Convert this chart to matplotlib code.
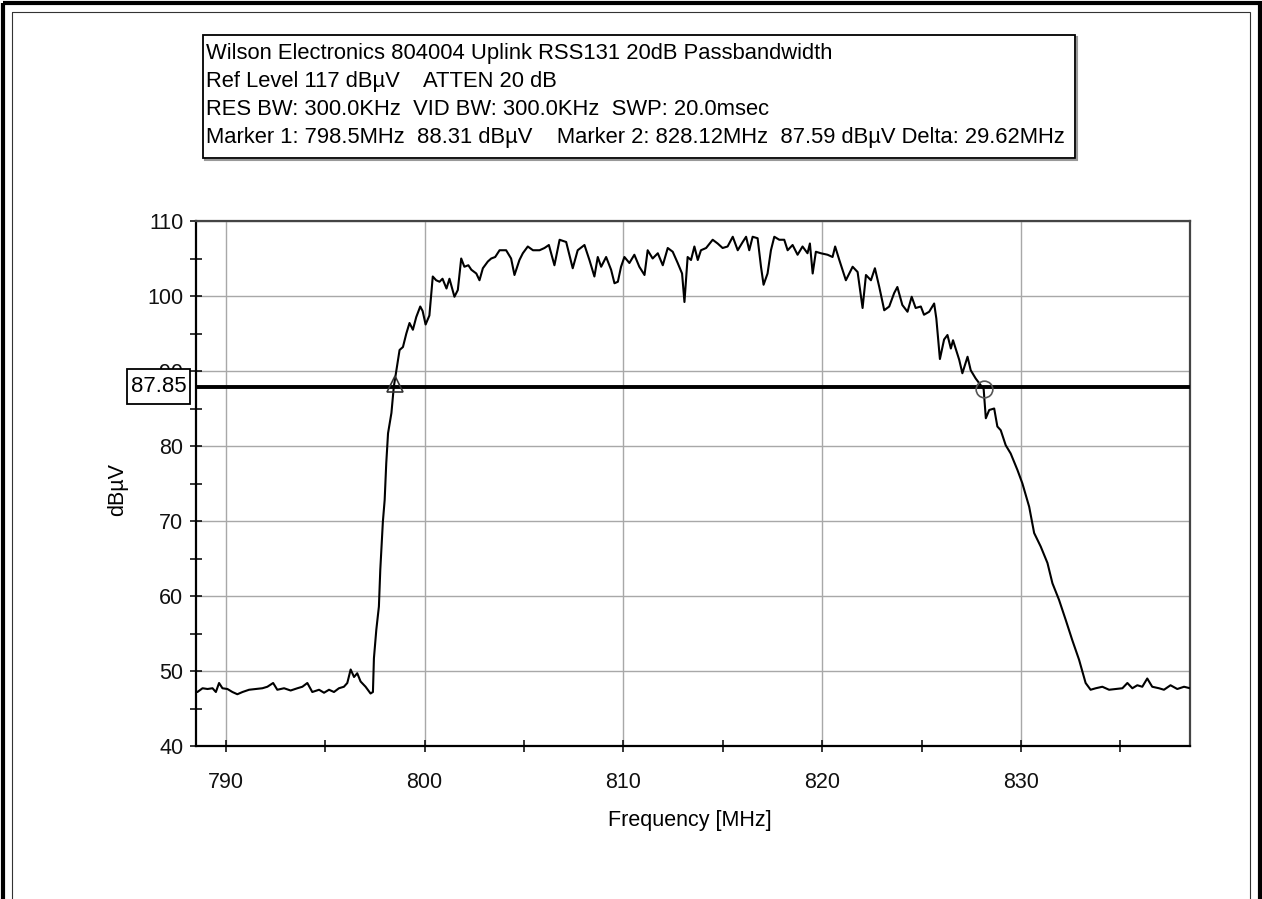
import matplotlib
matplotlib.use("Agg")
import matplotlib.pyplot as plt
import matplotlib.transforms as mtransforms
from matplotlib.patches import Rectangle
from matplotlib.ticker import MultipleLocator

plt.rcParams["font.family"] = ["Liberation Sans", "DejaVu Sans"]

# --- Sweep trace: frequency [MHz] vs level [dBuV] ---
freq_mhz = [
    788.5, 788.57, 788.83, 789.08, 789.33, 789.5, 789.66, 789.83, 790.08, 790.33,
    790.58, 790.84, 791.17, 791.5, 791.84, 792.09, 792.38, 792.59, 792.93, 793.26,
    793.6, 793.85, 794.1, 794.35, 794.69, 794.94, 795.19, 795.44, 795.69, 795.94,
    796.11, 796.28, 796.45, 796.61, 796.78, 797.03, 797.28, 797.4, 797.45, 797.57,
    797.7, 797.77, 797.9, 797.99, 798.07, 798.16, 798.33, 798.45, 798.58, 798.74,
    798.91, 799.08, 799.24, 799.41, 799.58, 799.78, 799.9, 800.05, 800.24, 800.41,
    800.58, 800.75, 800.9, 801.1, 801.25, 801.5, 801.67, 801.84, 802.0, 802.2,
    802.35, 802.6, 802.76, 802.93, 803.18, 803.35, 803.55, 803.77, 804.1, 804.35,
    804.52, 804.77, 804.94, 805.19, 805.45, 805.78, 806.03, 806.25, 806.53, 806.79,
    807.12, 807.45, 807.7, 808.04, 808.29, 808.54, 808.71, 808.88, 809.13, 809.38,
    809.55, 809.72, 809.88, 810.05, 810.3, 810.55, 810.8, 811.06, 811.22, 811.47,
    811.73, 811.98, 812.23, 812.48, 812.73, 812.95, 813.07, 813.23, 813.4, 813.57,
    813.74, 813.9, 814.16, 814.49, 814.74, 814.99, 815.24, 815.5, 815.75, 816.0,
    816.17, 816.33, 816.5, 816.75, 816.92, 817.05, 817.25, 817.42, 817.59, 817.84,
    818.09, 818.26, 818.51, 818.76, 819.01, 819.26, 819.38, 819.52, 819.68, 819.93,
    820.27, 820.52, 820.65, 820.86, 821.19, 821.53, 821.78, 822.03, 822.2, 822.45,
    822.65, 822.87, 823.12, 823.37, 823.62, 823.78, 824.03, 824.29, 824.5, 824.7,
    824.96, 825.12, 825.38, 825.63, 825.74, 825.92, 826.13, 826.3, 826.47, 826.58,
    826.89, 827.05, 827.31, 827.47, 827.72, 827.95, 828.12, 828.23, 828.4, 828.65,
    828.81, 828.98, 829.23, 829.48, 829.82, 830.07, 830.41, 830.66, 830.99, 831.33,
    831.58, 831.91, 832.25, 832.58, 832.92, 833.25, 833.5, 833.76, 834.09, 834.43,
    834.76, 835.1, 835.35, 835.6, 835.85, 836.1, 836.35, 836.6, 836.94, 837.19,
    837.52, 837.86, 838.2, 838.5,
]
level_dbuv = [
    47.3, 47.2, 47.7, 47.6, 47.7, 47.2, 48.4, 47.7, 47.6, 47.2,
    46.9, 47.2, 47.5, 47.6, 47.7, 47.9, 48.4, 47.5, 47.7, 47.4,
    47.7, 47.9, 48.4, 47.2, 47.5, 47.1, 47.5, 47.2, 47.7, 47.9,
    48.4, 50.2, 49.2, 49.7, 48.6, 47.9, 47.0, 47.2, 51.7, 55.5,
    58.6, 63.5, 69.9, 72.8, 77.7, 81.7, 84.4, 87.9, 90.1, 92.8,
    93.2, 95.0, 96.4, 95.5, 97.2, 98.6, 98.0, 96.2, 97.4, 102.6,
    102.1, 101.9, 102.3, 101.0, 102.3, 99.9, 100.8, 105.0, 103.9, 104.1,
    103.5, 103.0, 102.1, 103.7, 104.6, 105.0, 105.2, 106.1, 106.1, 105.0,
    102.8, 104.8, 105.7, 106.6, 106.1, 106.1, 106.4, 106.8, 104.1, 107.5,
    107.2, 103.7, 106.1, 106.8, 104.8, 102.6, 105.2, 103.9, 105.2, 103.5,
    101.7, 101.9, 103.9, 105.2, 104.4, 105.5, 103.9, 102.8, 106.1, 105.0,
    105.7, 104.1, 106.4, 105.9, 104.4, 103.0, 99.2, 105.2, 104.8, 106.6,
    104.8, 106.1, 106.4, 107.5, 107.0, 106.4, 106.6, 107.9, 106.1, 107.2,
    107.9, 106.1, 107.9, 107.7, 103.9, 101.5, 103.0, 106.1, 107.9, 107.5,
    107.5, 106.1, 106.8, 105.5, 106.6, 105.7, 107.0, 103.0, 105.9, 105.7,
    105.5, 105.2, 106.6, 104.8, 102.1, 103.9, 103.2, 98.4, 102.8, 102.1,
    103.7, 101.2, 98.1, 98.6, 100.4, 101.2, 98.8, 97.9, 99.9, 98.4,
    98.6, 97.5, 97.9, 99.0, 97.0, 91.6, 94.2, 94.8, 93.0, 94.1,
    91.5, 89.7, 91.9, 90.1, 89.0, 88.2, 87.59, 83.7, 84.8, 85.0,
    82.6, 82.1, 80.1, 79.0, 76.8, 75.0, 71.9, 68.4, 66.6, 64.4,
    61.7, 59.5, 56.8, 54.1, 51.5, 48.4, 47.5, 47.7, 47.9, 47.5,
    47.6, 47.7, 48.4, 47.7, 48.1, 47.9, 49.0, 47.9, 47.7, 47.5,
    48.1, 47.6, 47.9, 47.7,
]

# --- Markers and 20 dB reference line ---
marker1_mhz, marker1_dbuv = 798.5, 88.31
marker2_mhz, marker2_dbuv = 828.12, 87.59
ref_level = 87.85

header_lines = [
    "Wilson Electronics 804004 Uplink RSS131 20dB Passbandwidth",
    "Ref Level 117 dBµV    ATTEN 20 dB",
    "RES BW: 300.0KHz  VID BW: 300.0KHz  SWP: 20.0msec",
    f"Marker 1: {marker1_mhz}MHz  {marker1_dbuv} dBµV    "
    f"Marker 2: {marker2_mhz}MHz  {marker2_dbuv} dBµV "
    f"Delta: {marker2_mhz - marker1_mhz:.2f}MHz",
]

W, H = 1262, 899
fig = plt.figure(figsize=(W / 100, H / 100), dpi=100)
fig.patch.set_facecolor("white")

# overlay in pixel coordinates for the frame and the header box
ov = fig.add_axes([0, 0, 1, 1], zorder=0)
ov.set_xlim(0, W)
ov.set_ylim(H, 0)
ov.axis("off")
ov.add_patch(Rectangle((2.5, 2.5), W - 5, H + 20, fill=False, lw=3.0, ec="black"))
ov.add_patch(Rectangle((12, 12), W - 24, H + 20, fill=False, lw=0.8, ec="#333333"))
ov.add_patch(Rectangle((205, 37), 872, 123, fill=False, lw=1.5, ec="#999999"))
ov.add_patch(Rectangle((203, 35), 872, 123, fill=True, fc="white", lw=1.3, ec="black"))
for i, line in enumerate(header_lines):
    ov.text(206, 53 + 28.3 * i, line, fontsize=15.8, ha="left", va="center")

# --- Main plot ---
ax = fig.add_axes([196 / W, 1 - 746 / H, (1190 - 196) / W, (746 - 221) / H], zorder=1)
ax.plot(freq_mhz, level_dbuv, color="black", lw=1.5, zorder=3)
ax.axhline(ref_level, color="black", lw=2.8, zorder=4)
ax.plot(marker1_mhz, marker1_dbuv, marker="^", ms=12, mfc="none", mec="#333333",
        mew=1.2, zorder=5)
ax.plot(marker2_mhz, marker2_dbuv, marker="o", ms=12, mfc="none", mec="#555555",
        mew=1.2, zorder=5)

ax.set_xlim(788.5, 838.5)
ax.set_ylim(40, 110)
ax.xaxis.set_major_locator(MultipleLocator(10))
ax.xaxis.set_minor_locator(MultipleLocator(5))
ax.yaxis.set_major_locator(MultipleLocator(10))
ax.yaxis.set_minor_locator(MultipleLocator(5))
ax.grid(which="major", color="#a8a8a8", lw=1.0, zorder=1)
ax.set_axisbelow(True)

ax.tick_params(which="both", direction="inout", length=9, width=1.1,
               color="black", labelsize=15.5, labelcolor="#111111")
ax.tick_params(axis="x", which="both", pad=14)
ax.tick_params(axis="y", which="both", pad=4.5)

for side in ["left", "bottom"]:
    ax.spines[side].set_color("black")
    ax.spines[side].set_linewidth(1.6)
for side in ["top", "right"]:
    ax.spines[side].set_color("#444444")
    ax.spines[side].set_linewidth(1.6)

ax.set_xlabel("Frequency [MHz]", fontsize=15.5)
ax.xaxis.set_label_coords(0.497, -0.122)
ax.set_ylabel("dBµV", fontsize=15.5, va="center")
ax.yaxis.set_label_coords(-0.079, 0.488)

# value box for the reference line, sitting over the y tick labels
trans = mtransforms.blended_transform_factory(ax.transAxes, ax.transData)
ax.add_patch(Rectangle((-0.0694, ref_level - 2.3), 0.0634, 4.75, transform=trans,
                       fc="white", ec="black", lw=1.3, clip_on=False, zorder=9))
ax.text(-0.0377, ref_level + 0.1, f"{ref_level:.2f}", transform=trans, fontsize=16,
        ha="center", va="center", clip_on=False, zorder=10)

fig.savefig("out.png", dpi=100)
plt.close(fig)
